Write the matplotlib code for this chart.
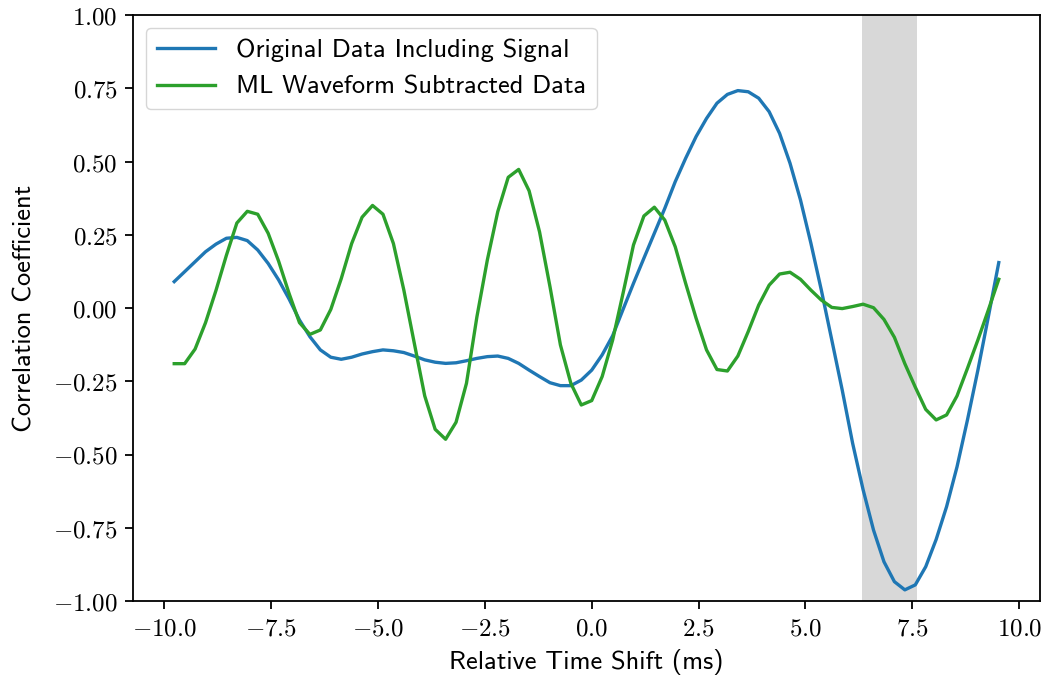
import numpy as np
import matplotlib
matplotlib.use("Agg")
import matplotlib.pyplot as plt
from matplotlib.ticker import FuncFormatter

# time axis: samples at 4096 Hz, shown in ms
shift_samples = np.arange(-40, 40)
time_ms = shift_samples / 4096.0 * 1000.0

original_corr = [
    0.09, 0.124, 0.158, 0.192, 0.218, 0.238, 0.241, 0.23, 0.198, 0.152,
    0.096, 0.031, -0.041, -0.098, -0.143, -0.168, -0.175, -0.168, -0.157, -0.149,
    -0.143, -0.146, -0.152, -0.164, -0.177, -0.185, -0.189, -0.187, -0.18, -0.172,
    -0.166, -0.164, -0.172, -0.189, -0.212, -0.234, -0.255, -0.265, -0.265, -0.246,
    -0.212, -0.16, -0.095, -0.005, 0.084, 0.17, 0.255, 0.34, 0.431, 0.511,
    0.585, 0.647, 0.699, 0.729, 0.742, 0.738, 0.716, 0.67, 0.596, 0.494,
    0.369, 0.221, 0.061, -0.109, -0.28, -0.462, -0.62, -0.758, -0.866, -0.934,
    -0.962, -0.945, -0.883, -0.79, -0.678, -0.542, -0.382, -0.212, -0.03, 0.155,
]

subtracted_corr = [
    -0.19, -0.19, -0.14, -0.05, 0.06, 0.18, 0.29, 0.33, 0.32, 0.255,
    0.16, 0.05, -0.05, -0.09, -0.075, -0.005, 0.10, 0.22, 0.31, 0.35,
    0.32, 0.22, 0.061, -0.12, -0.30, -0.414, -0.448, -0.39, -0.257, -0.03,
    0.164, 0.329, 0.446, 0.473, 0.40, 0.26, 0.073, -0.126, -0.257, -0.331,
    -0.316, -0.234, -0.11, 0.05, 0.215, 0.314, 0.344, 0.30, 0.209, 0.084,
    -0.035, -0.143, -0.21, -0.215, -0.164, -0.08, 0.01, 0.078, 0.116, 0.122,
    0.098, 0.061, 0.027, 0.002, -0.002, 0.005, 0.013, 0.001, -0.039, -0.10,
    -0.19, -0.27, -0.346, -0.382, -0.365, -0.30, -0.206, -0.109, -0.007, 0.098,
]

# shaded window (ms)
span_lo, span_hi = 6.33, 7.60

plt.rcParams['mathtext.fontset'] = 'cm'
plt.rcParams['axes.linewidth'] = 1.3
sans = 'cmss10'

fig = plt.figure(figsize=(10.47, 6.82), dpi=100)
ax = fig.add_axes([133 / 1047, 1 - 601 / 682, (1040 - 133) / 1047, (601 - 15) / 682])

ax.axvspan(span_lo, span_hi, color='gray', alpha=0.3, lw=0)
ax.plot(time_ms, original_corr, color='#1f77b4', lw=2.4, label='Original Data Including Signal')
ax.plot(time_ms, subtracted_corr, color='#2ca02c', lw=2.4, label='ML Waveform Subtracted Data')

ax.set_ylim(-1, 1)
ax.set_yticks(np.arange(-1, 1.01, 0.25))
ax.set_xticks(np.arange(-10, 10.01, 2.5))
ax.xaxis.set_major_formatter(FuncFormatter(lambda v, p: r'$%.1f$' % v))
ax.yaxis.set_major_formatter(FuncFormatter(lambda v, p: r'$%.2f$' % v))
ax.tick_params(labelsize=18, length=6, width=1.3, pad=5)

ax.set_xlabel('Relative Time Shift (ms)', family=sans, fontsize=19, labelpad=6)
ax.set_ylabel('Correlation Coefficient', family=sans, fontsize=19, labelpad=12)

leg = ax.legend(loc='upper left', prop={'family': sans, 'size': 19}, handlelength=2.2)

fig.savefig('out.png', dpi=100)
